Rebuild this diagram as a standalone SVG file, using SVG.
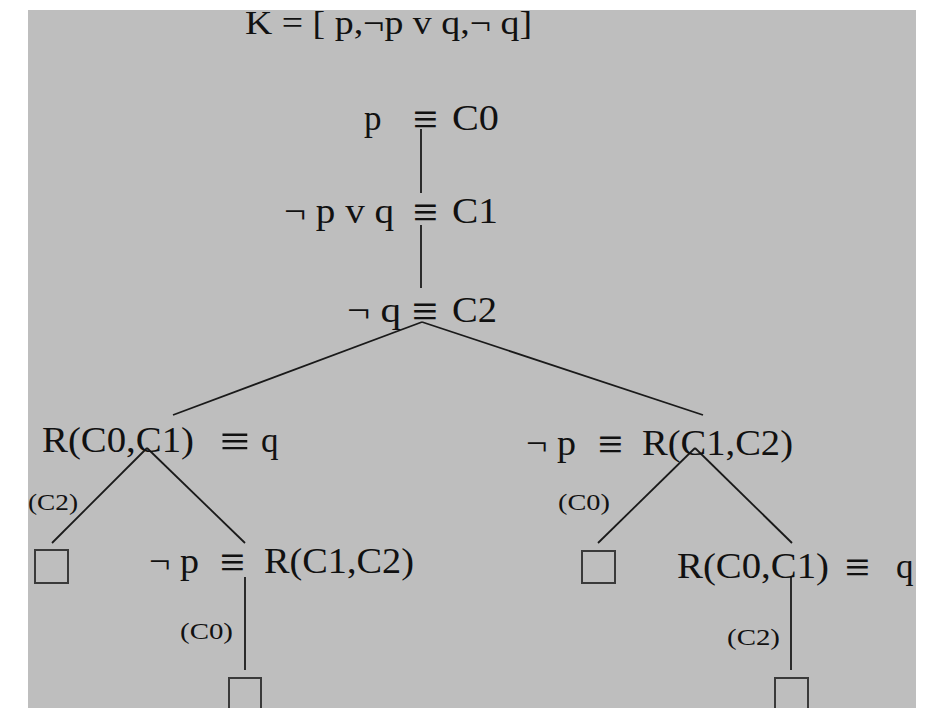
<svg xmlns="http://www.w3.org/2000/svg" width="928" height="708" viewBox="0 0 928 708">
<style>
.t{font-family:"Liberation Serif","Times New Roman",serif;font-size:35px;fill:#111}
.h{font-family:"Liberation Serif","Times New Roman",serif;font-size:34px;fill:#111}
.s{font-family:"Liberation Serif","Times New Roman",serif;font-size:24px;fill:#111}
.e{font-family:"Liberation Serif","DejaVu Serif",serif;font-size:47px;fill:#111}
.c line{stroke:#1a1a1a;stroke-width:1.8}
.b{fill:none;stroke:#3a3a3a;stroke-width:2}
</style>
<rect x="0" y="0" width="928" height="708" fill="#ffffff"/>
<rect x="28" y="10" width="888" height="698" fill="#bebebe"/>
<g id="title"><text class="h" x="245" y="34" textLength="287" lengthAdjust="spacingAndGlyphs">K = [ p,¬p v q,¬ q]</text></g>
<g class="c" id="connectors">
<line x1="421" y1="129" x2="421" y2="193"/>
<line x1="421" y1="225" x2="421" y2="288"/>
<line x1="422" y1="322" x2="173" y2="415"/>
<line x1="422" y1="322" x2="703" y2="415"/>
<line x1="147" y1="448" x2="52" y2="543"/>
<line x1="147" y1="448" x2="245" y2="543"/>
<line x1="695" y1="448" x2="598" y2="543"/>
<line x1="695" y1="448" x2="792" y2="543"/>
<line x1="245" y1="577" x2="245" y2="670"/>
<line x1="791" y1="577" x2="791" y2="670"/>
</g>
<g id="n-c0">
<text class="t" x="364" y="130">p</text>
<text class="e" x="413" y="135" textLength="25" lengthAdjust="spacingAndGlyphs">≡</text>
<text class="t" x="452" y="130" textLength="47" lengthAdjust="spacingAndGlyphs">C0</text>
</g>
<g id="n-c1">
<text class="t" x="284" y="223" textLength="110" lengthAdjust="spacingAndGlyphs">¬ p v q</text>
<text class="e" x="413" y="228" textLength="25" lengthAdjust="spacingAndGlyphs">≡</text>
<text class="t" x="452" y="223" textLength="46" lengthAdjust="spacingAndGlyphs">C1</text>
</g>
<g id="n-c2">
<text class="t" x="347" y="322" textLength="54" lengthAdjust="spacingAndGlyphs">¬ q</text>
<text class="e" x="412" y="327" textLength="26" lengthAdjust="spacingAndGlyphs">≡</text>
<text class="t" x="452" y="322" textLength="45" lengthAdjust="spacingAndGlyphs">C2</text>
</g>
<g id="n-left">
<text class="t" x="42" y="452" textLength="152" lengthAdjust="spacingAndGlyphs">R(C0,C1)</text>
<text class="e" x="220" y="457" textLength="30" lengthAdjust="spacingAndGlyphs">≡</text>
<text class="t" x="261" y="452">q</text>
</g>
<g id="n-right">
<text class="t" x="526" y="455" textLength="50" lengthAdjust="spacingAndGlyphs">¬ p</text>
<text class="e" x="598" y="460" textLength="25" lengthAdjust="spacingAndGlyphs">≡</text>
<text class="t" x="642" y="455" textLength="151" lengthAdjust="spacingAndGlyphs">R(C1,C2)</text>
</g>
<g id="n-ll">
<text class="t" x="149" y="573" textLength="50" lengthAdjust="spacingAndGlyphs">¬ p</text>
<text class="e" x="220" y="578" textLength="25" lengthAdjust="spacingAndGlyphs">≡</text>
<text class="t" x="264" y="573" textLength="150" lengthAdjust="spacingAndGlyphs">R(C1,C2)</text>
</g>
<g id="n-rr">
<text class="t" x="677" y="578" textLength="152" lengthAdjust="spacingAndGlyphs">R(C0,C1)</text>
<text class="e" x="845" y="583" textLength="25" lengthAdjust="spacingAndGlyphs">≡</text>
<text class="t" x="896" y="578">q</text>
</g>
<g id="labels">
<text class="s" x="28" y="510" textLength="50" lengthAdjust="spacingAndGlyphs">(C2)</text>
<text class="s" x="558" y="510" textLength="52" lengthAdjust="spacingAndGlyphs">(C0)</text>
<text class="s" x="180" y="639" textLength="53" lengthAdjust="spacingAndGlyphs">(C0)</text>
<text class="s" x="727" y="645" textLength="53" lengthAdjust="spacingAndGlyphs">(C2)</text>
</g>
<g id="box-1"><rect class="b" x="35" y="550" width="33" height="33"/></g>
<g id="box-2"><rect class="b" x="582" y="551" width="33" height="32"/></g>
<g id="box-3"><rect class="b" x="229" y="678" width="32" height="40"/></g>
<g id="box-4"><rect class="b" x="775" y="678" width="33" height="40"/></g>
</svg>
